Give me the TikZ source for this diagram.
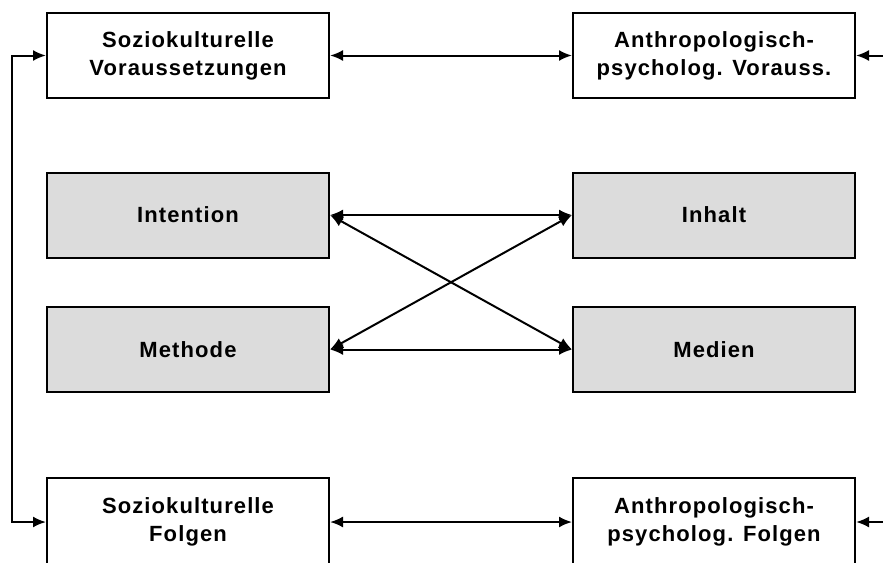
\documentclass[tikz,border=0pt]{standalone}
\usepackage{fontspec}
\setmainfont{Liberation Sans}[LetterSpace=5]
\usetikzlibrary{arrows.meta}
\definecolor{boxgray}{RGB}{220,220,220}
\tikzset{
  whitebox/.style={draw=black, line width=2pt, fill=white, minimum width=282pt, minimum height=85pt,
    inner sep=0pt, align=center, font=\fontsize{22}{28}\selectfont\bfseries},
  graybox/.style={whitebox, fill=boxgray},
  conn/.style={line width=2pt, {Latex[length=13pt,width=11pt]}-{Latex[length=13pt,width=11pt]}},
  conn1/.style={line width=2pt, -{Latex[length=13pt,width=11pt]}}
}
\begin{document}
\begin{tikzpicture}[x=1pt,y=-1pt]
\useasboundingbox (0,0) rectangle (883,562);
\fill[white] (0,0) rectangle (883,562);
\node[whitebox] (sv) at (188,55.5) {Soziokulturelle\\Voraussetzungen};
\node[whitebox] (av) at (714,55.5) {Anthropologisch-\\psycholog. Vorauss.};
\node[graybox] (int) at (188,215) {Intention};
\node[graybox] (inh) at (714,215) {Inhalt};
\node[graybox] (met) at (188,349.5) {Methode};
\node[graybox] (med) at (714,349.5) {Medien};
\node[whitebox, minimum height=88pt] (sf) at (188,522) {Soziokulturelle\\Folgen};
\node[whitebox, minimum height=88pt] (af) at (714,522) {Anthropologisch-\\psycholog. Folgen};
\coordinate (lft) at (12,0);
\coordinate (rgt) at (890,0);
\draw[conn] (sv.east) -- (av.west);
\draw[conn] (sf.east) -- (af.west);
\draw[conn] (sv.west) -- (sv.west -| lft) |- (sf.west);
\draw[conn1] (av.east -| rgt) -- (av.east);
\draw[conn1] (af.east -| rgt) -- (af.east);
\draw[conn] (int.east) -- (inh.west);
\draw[conn] (met.east) -- (med.west);
\draw[conn] (int.east) -- (med.west);
\draw[conn] (met.east) -- (inh.west);
\end{tikzpicture}
\end{document}
